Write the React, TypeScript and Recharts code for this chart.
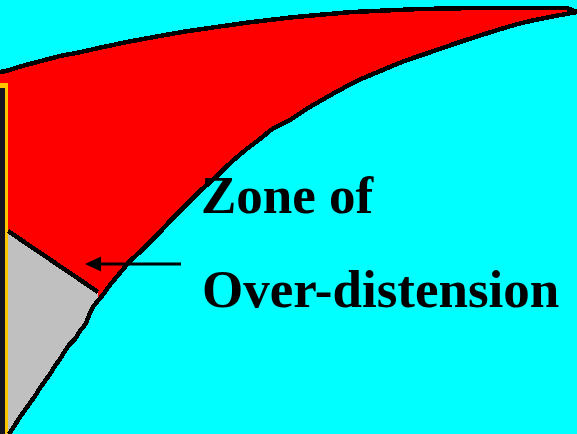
import React from 'react';
import {
  ComposedChart,
  Area,
  Line,
  XAxis,
  YAxis,
  ReferenceArea,
  ReferenceLine,
  ReferenceDot,
} from 'recharts';

const W = 577;
const H = 434;

// Upper (inflation) curve: pressure -> volume
const topPressure = [0, 6, 22, 41, 60, 81, 103, 127, 154, 182, 216, 252, 295, 352, 420, 476, 567, 577];
const topVolume = [362, 363, 368, 373, 378, 382, 387, 392, 397, 402, 407, 412, 417, 422, 425, 426, 426, 422];

// Lower (compliance) curve: pressure -> volume
const lowerPressure = [
  9, 15, 20, 25, 30, 35, 40, 45, 50, 55, 60, 65, 70, 75, 80, 86, 90, 93, 97, 102, 110, 120, 130, 140,
  150, 160, 170, 180, 190, 200, 216, 226, 236, 248, 260, 271, 290, 305, 322, 338, 357, 378, 402, 431,
  460, 488, 522, 550, 577,
];
const lowerVolume = [
  0, 9, 17, 24, 31, 38, 46, 53, 60, 68, 75, 83, 90, 95, 103, 111, 121, 127, 132, 138, 149, 161, 173, 182,
  192, 202, 213, 223, 233, 243, 257, 267, 276, 286, 295, 304, 314, 324, 334, 343, 353, 362, 372, 382,
  392, 401, 411, 417, 422,
];

// Diagonal boundary of the grey zone
const diagPressure = [8, 98];
const diagVolume = [203, 142];

// Arrow annotation (pressure, volume)
const arrowTail = { x: 181, y: 170 };
const arrowTip = { x: 85, y: 170 };

// Dark frame at left edge
const frameRight = 5;
const frameBorderRight = 8;
const frameTop = 346;
const frameBorderTop = 351;

const labelLines = ['Zone of', 'Over-distension'];

type Row = { p: number; top?: number | null; lower?: number | null; diag?: number | null };

const buildData = (): Row[] => {
  const map = new Map<number, Row>();
  const get = (p: number) => {
    if (!map.has(p)) map.set(p, { p, top: null, lower: null, diag: null });
    return map.get(p)!;
  };
  topPressure.forEach((p, i) => (get(p).top = topVolume[i]));
  lowerPressure.forEach((p, i) => (get(p).lower = lowerVolume[i]));
  diagPressure.forEach((p, i) => (get(p).diag = diagVolume[i]));
  return Array.from(map.values()).sort((a, b) => a.p - b.p);
};

const data = buildData();

const ArrowHead = (props: any) => {
  const { cx, cy } = props;
  if (cx == null || cy == null) return null;
  return <polygon points={`${cx},${cy} ${cx + 16},${cy - 7.5} ${cx + 16},${cy + 7.5}`} fill="#000" />;
};

export default function App() {
  return (
    <div
      style={{
        position: 'absolute',
        left: 0,
        top: 0,
        width: W,
        height: H,
        background: '#00FFFF',
        overflow: 'hidden',
      }}
    >
      <ComposedChart width={W} height={H} data={data} margin={{ top: 0, right: 0, bottom: 0, left: 0 }}>
        <XAxis dataKey="p" type="number" domain={[0, W]} hide allowDataOverflow />
        <YAxis type="number" domain={[0, H]} hide allowDataOverflow />
        <Area
          dataKey="top"
          type="linear"
          fill="#FF0000"
          fillOpacity={1}
          stroke="none"
          connectNulls
          isAnimationActive={false}
          dot={false}
          activeDot={false}
        />
        <Area
          dataKey="diag"
          type="linear"
          fill="#C0C0C0"
          fillOpacity={1}
          stroke="none"
          connectNulls
          isAnimationActive={false}
          dot={false}
          activeDot={false}
        />
        <Area
          dataKey="lower"
          type="monotone"
          fill="#00FFFF"
          fillOpacity={1}
          stroke="none"
          connectNulls
          isAnimationActive={false}
          dot={false}
          activeDot={false}
        />
        <Line
          dataKey="top"
          type="linear"
          stroke="#000"
          strokeWidth={4.5}
          connectNulls
          dot={false}
          activeDot={false}
          isAnimationActive={false}
          shapeRendering="crispEdges"
        />
        <Line
          dataKey="lower"
          type="monotone"
          stroke="#000"
          strokeWidth={4.5}
          connectNulls
          dot={false}
          activeDot={false}
          isAnimationActive={false}
          shapeRendering="crispEdges"
        />
        <Line
          dataKey="diag"
          type="linear"
          stroke="#000"
          strokeWidth={4.5}
          connectNulls
          dot={false}
          activeDot={false}
          isAnimationActive={false}
          shapeRendering="crispEdges"
        />
        <ReferenceArea x1={0} x2={frameBorderRight} y1={0} y2={frameBorderTop} fill="#FFC400" fillOpacity={1} stroke="none" />
        <ReferenceArea x1={0} x2={frameRight} y1={0} y2={frameTop} fill="#141420" fillOpacity={1} stroke="none" />
        <ReferenceLine
          segment={[
            { x: arrowTip.x + 14, y: arrowTail.y },
            { x: arrowTail.x, y: arrowTail.y },
          ]}
          stroke="#000"
          strokeWidth={3}
        />
        <ReferenceDot x={arrowTip.x} y={arrowTip.y} r={0} shape={ArrowHead} />
      </ComposedChart>
      <svg
        width={W}
        height={H}
        style={{ position: 'absolute', left: 0, top: 0, pointerEvents: 'none' }}
      >
        <text
          x={201}
          y={213}
          fontFamily="'Liberation Serif', 'Times New Roman', serif"
          fontWeight="bold"
          fontSize={53}
          fill="#000"
        >
          {labelLines[0]}
        </text>
        <text
          x={202}
          y={307}
          fontFamily="'Liberation Serif', 'Times New Roman', serif"
          fontWeight="bold"
          fontSize={53}
          fill="#000"
        >
          {labelLines[1]}
        </text>
      </svg>
    </div>
  );
}
